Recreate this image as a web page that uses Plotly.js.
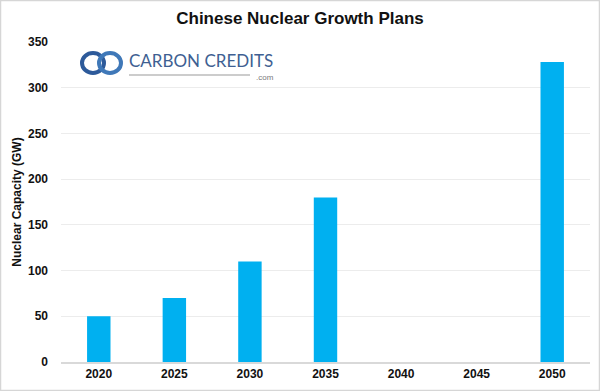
<!DOCTYPE html>
<html><head><meta charset="utf-8">
<script src="https://cdn.plot.ly/plotly-3.0.1.min.js"></script>
<style>body{margin:0;background:#fff}#c{width:600px;height:391px}</style>
</head><body><div id="c"></div>
<script>
const years = ['2020','2025','2030','2035','2040','2045','2050'];
const capacityGW = [50, 70, 110, 180, null, null, 328];
const yTicks = [0, 50, 100, 150, 200, 250, 300, 350];

const L = 61, R = 10, T = 42, B = 29, W = 600, H = 391;
const pw = W - L - R, ph = H - T - B;
const px = x => (x - L) / pw;
const py = y => (H - B - y) / ph;

const shapes = [
  // outer border
  {type:'rect', xref:'paper', yref:'paper', x0:px(0.5), x1:px(599.5), y0:py(0.5), y1:py(390.5),
   line:{color:'#d6d6d6', width:1.5}, fillcolor:'rgba(0,0,0,0)', layer:'above'},
  // logo rings
  {type:'circle', xref:'paper', yref:'paper', x0:px(82), x1:px(104), y0:py(53), y1:py(73),
   line:{color:'#2d5a9a', width:4}},
  {type:'circle', xref:'paper', yref:'paper', x0:px(99), x1:px(121), y0:py(53), y1:py(73),
   line:{color:'#3f78b8', width:4}},
  // logo underline
  {type:'line', xref:'paper', yref:'paper', x0:px(129), x1:px(250), y0:py(75), y1:py(75),
   line:{color:'#9a9a9a', width:1.2}}
];

const annotations = [
  {text:'CARBON CREDITS', xref:'paper', yref:'paper', x:px(127), y:py(60), xanchor:'left', yanchor:'middle',
   showarrow:false, font:{family:'Lato, Open Sans, sans-serif', size:17, color:'#3e5f92'}},
  {text:'.com', xref:'paper', yref:'paper', x:px(276), y:py(77.5), xanchor:'right', yanchor:'middle',
   showarrow:false, font:{family:'Liberation Sans, Arial, sans-serif', size:8, color:'#7a7a7a'}}
];

Plotly.newPlot('c', [{
  type:'bar', x: years, y: capacityGW,
  marker:{color:'#00b0f0'}, hoverinfo:'x+y'
}], {
  width: W, height: H,
  margin:{l:L, r:R, t:T, b:B, pad:0},
  paper_bgcolor:'#fff', plot_bgcolor:'#fff',
  bargap: 0.69,
  title:{text:'<b>Chinese Nuclear Growth Plans</b>', x:0.5, xanchor:'center', y:0.955, yanchor:'middle',
    font:{family:'Liberation Sans, Arial, sans-serif', size:17, color:'#111'}},
  font:{family:'Liberation Sans, Arial, sans-serif', color:'#111'},
  xaxis:{type:'category', showgrid:false, zeroline:false, showline:true, linecolor:'#d9d9d9', linewidth:1.5,
    ticks:'', tickfont:{size:12, family:'Liberation Sans, Arial, sans-serif', color:'#111'},
    tickvals: years, ticktext: years.map(y=>'<b>'+y+'</b>')},
  yaxis:{range:[0,350], tickvals:yTicks, ticktext:yTicks.map(v=>'<b>'+v+'</b>'),
    showgrid:true, gridcolor:'#ececec', gridwidth:1, zeroline:false, ticks:'', ticklen:0,
    tickfont:{size:12, color:'#111'}, ticklabelstandoff: 12,
    title:{text:'<b>Nuclear Capacity (GW)</b>', standoff:3, font:{size:12, color:'#111'}}},
  shapes, annotations, showlegend:false
}, {displayModeBar:false, staticPlot:true});
</script></body></html>
